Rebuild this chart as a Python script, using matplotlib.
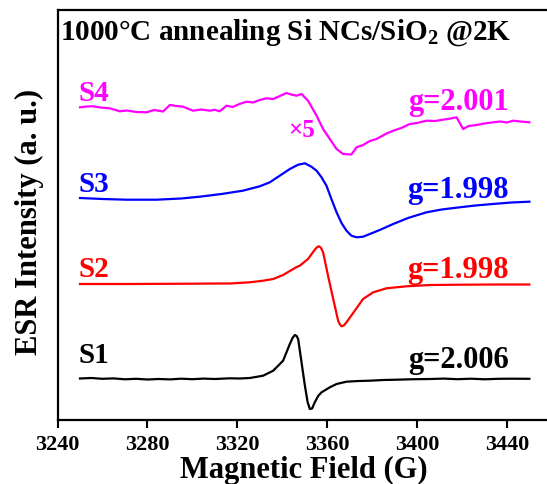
import matplotlib
matplotlib.use("Agg")
import matplotlib.pyplot as plt
import numpy as np

plt.rcParams['font.family'] = ['Liberation Serif', 'DejaVu Serif']
plt.rcParams['font.weight'] = 'bold'
plt.rcParams['mathtext.fontset'] = 'custom'
plt.rcParams['mathtext.rm'] = 'Liberation Serif:bold'
plt.rcParams['mathtext.bf'] = 'Liberation Serif:bold'
plt.rcParams['mathtext.it'] = 'Liberation Serif:bold'

# ---- data (field in G, intensity in arbitrary units relative to each baseline) ----
s1_field = [3250, 3255, 3260, 3265, 3270, 3275, 3280, 3285, 3290, 3295, 3300, 3305, 3310,
            3316.7, 3321, 3325.6, 3331.5, 3336.0, 3340.4, 3343.4, 3344.6, 3345.6, 3346.4,
            3347.1, 3348.6, 3350.1, 3351.3, 3352.3, 3353.3, 3354.5, 3356.0, 3357.5, 3361.2,
            3364.2, 3368.6, 3374, 3379, 3385, 3390.9, 3397, 3405.7, 3412, 3418, 3424, 3430,
            3436, 3442, 3450]
s1_int = [0.5, 1.0, 0.2, 0.6, -0.3, 0.2, -0.5, 0.0, -0.4, 0.3, -0.2, 0.4, 0.0,
          0.7, 0.5, 1.0, 3.3, 8.3, 18.3, 35, 41, 44, 43,
          40, 16.7, -6.7, -23, -30, -29.5, -23.3, -17, -13.3, -8.3,
          -5, -2.7, -2.0, -1.7, -1.0, -0.7, -0.3, 0.0, 0.4, -0.2, 0.3, -0.3,
          0.2, 0.3, 0.2]

s2_field = [3250, 3270, 3290, 3300, 3310, 3316.7, 3325.6, 3331.5, 3336.0, 3340.4, 3344.9,
            3346.2, 3347.8, 3351.5, 3354.5, 3355.6, 3356.4, 3357.3, 3358.2, 3360.4, 3362.7,
            3364.9, 3365.7, 3366.4, 3367.4, 3368.6, 3372.3, 3376.0, 3380.5, 3386.4, 3395.3,
            3405.7, 3420, 3435, 3450]
s2_int = [0, 0, 0.2, 0.3, 0.5, 0.5, 1.7, 3.3, 5, 9, 15.0,
          16.7, 18.3, 25, 34.3, 37, 37.7, 36, 31.7, 8.3, -15,
          -36.7, -40.5, -42.3, -41.5, -38.3, -26.7, -15, -8.3, -4.3, -2.3,
          -1.0, -0.7, -0.5, -0.5]

s3_field = [3250, 3260, 3270.7, 3284.1, 3295, 3303.3, 3313, 3322.5, 3330.0, 3334.5, 3338.9,
            3343.4, 3347.1, 3350.1, 3353.0, 3355.3, 3357.5, 3359.7, 3361.9, 3364.2, 3366.4,
            3368.6, 3370.8, 3373.1, 3376.0, 3379.0, 3383.4, 3389.4, 3396, 3404.2, 3411,
            3419.0, 3426, 3433.7, 3442, 3450]
s3_int = [1, 0, -0.7, -0.7, 0.5, 2.3, 5, 8.3, 12.7, 16.7, 23.3,
          30, 34.3, 35.7, 32.3, 28.3, 21.7, 13.3, 0, -13.3, -24,
          -31.7, -36.7, -38.3, -37.7, -35, -31, -25, -19, -13.3, -10.5,
          -8.3, -6.5, -5, -3.5, -2.7]

s4_field = [3250, 3253, 3255.8, 3259, 3263.3, 3267.7, 3271, 3275, 3279.6, 3283, 3287, 3290.0,
            3293, 3295.9, 3300.3, 3304, 3307.8, 3310, 3312.2, 3315.2, 3318, 3321, 3324.1,
            3327, 3330, 3333.0, 3336, 3339, 3341.9, 3344, 3346.4, 3348.6, 3351.5, 3355.3,
            3358.2, 3361.2, 3364.2, 3367.1, 3370.8, 3373.1, 3376, 3379, 3382.0, 3386, 3389.4,
            3393, 3396.8, 3400, 3404.2, 3408, 3411.6, 3415, 3417.6, 3420.5, 3423, 3426.5,
            3430, 3433.9, 3437, 3440, 3442.8, 3446, 3450]
s4_int = [1.7, 2.5, 2.7, 1.5, 0.7, -2.3, -1.5, -3.0, -3.3, -1.0, -2.5, 4.0,
          3.0, 2.3, -1.7, -0.5, -1.7, -0.8, -2.3, 3.3, 2.0, 5.0, 7.3,
          6.5, 9.0, 10.7, 10.0, 13.0, 16.0, 14.5, 13.3, 15.0, 8.3, -6.7,
          -20, -30, -40, -45, -45.5, -38.3, -36, -32, -30, -25, -21.7,
          -19, -15, -14, -11.7, -12, -10.7, -9.5, -8.3, -20, -17, -16,
          -14.5, -13.3, -12.5, -13.5, -11.7, -12.5, -13.3]

labels = ['S1', 'S2', 'S3', 'S4']
g_values = ['g=2.006', 'g=1.998', 'g=1.998', 'g=2.001']
colors = ['black', '#FF0000', '#0000FF', '#FF00FF']
offsets = [40.7, 135.7, 220.7, 310.7]

fields = [s1_field, s2_field, s3_field, s4_field]
ints = [s1_int, s2_int, s3_int, s4_int]

W, H = 547, 485
fig = plt.figure(figsize=(W / 100, H / 100), dpi=100)
left_px, bottom_px, top_px = 57.5, 420.7, 10.5
xmin, xmax = 3240, 3460
px_per_g = 2.247
ax = fig.add_axes([left_px / W, (H - bottom_px) / H,
                   (xmax - xmin) * px_per_g / W, (bottom_px - top_px) / H])

for f, y, off, c in zip(fields, ints, offsets, colors):
    ax.plot(f, np.array(y) + off, color=c, lw=1.6)

ax.set_xlim(xmin, xmax)
ax.set_ylim(0, bottom_px - top_px)
ax.set_xticks([3240, 3280, 3320, 3360, 3400, 3440])
ax.set_yticks([])
for sp in ax.spines.values():
    sp.set_linewidth(1.6)
ax.tick_params(axis='x', direction='out', length=6, width=1.5, labelsize=16, pad=4)
for lab in ax.get_xticklabels():
    lab.set_fontweight('bold')

# sample labels
lab_y = [57.7, 143.7, 228.7, 319.7]
g_y = [52.7, 142.7, 222.7, 310.7]
for lab, gv, c, ly, gy in zip(labels, g_values, colors, lab_y, g_y):
    ax.text(3249.3, ly, lab, color=c, fontsize=21, fontweight='bold', ha='left', va='baseline')
    ax.text(3441.0, gy, gv, color=c, fontsize=22, fontweight='bold', ha='right', va='baseline')

ax.text(3342.8, 284, '×5', color='#FF00FF', fontsize=18, fontweight='bold', ha='left', va='baseline')
ax.text(3241.3, 380.7, '1000°C annealing Si NCs/SiO$_2$ @2K', color='black', fontsize=21,
        fontweight='bold', ha='left', va='baseline')

fig.text(304 / W, 7 / H, 'Magnetic Field (G)', fontsize=22, fontweight='bold',
         ha='center', va='baseline')
fig.text(29 / W, 1 - 221.5 / H, 'ESR Intensity (a. u.)', fontsize=22, fontweight='bold',
         rotation=90, ha='center', va='center')

fig.savefig('out.png', dpi=100)
